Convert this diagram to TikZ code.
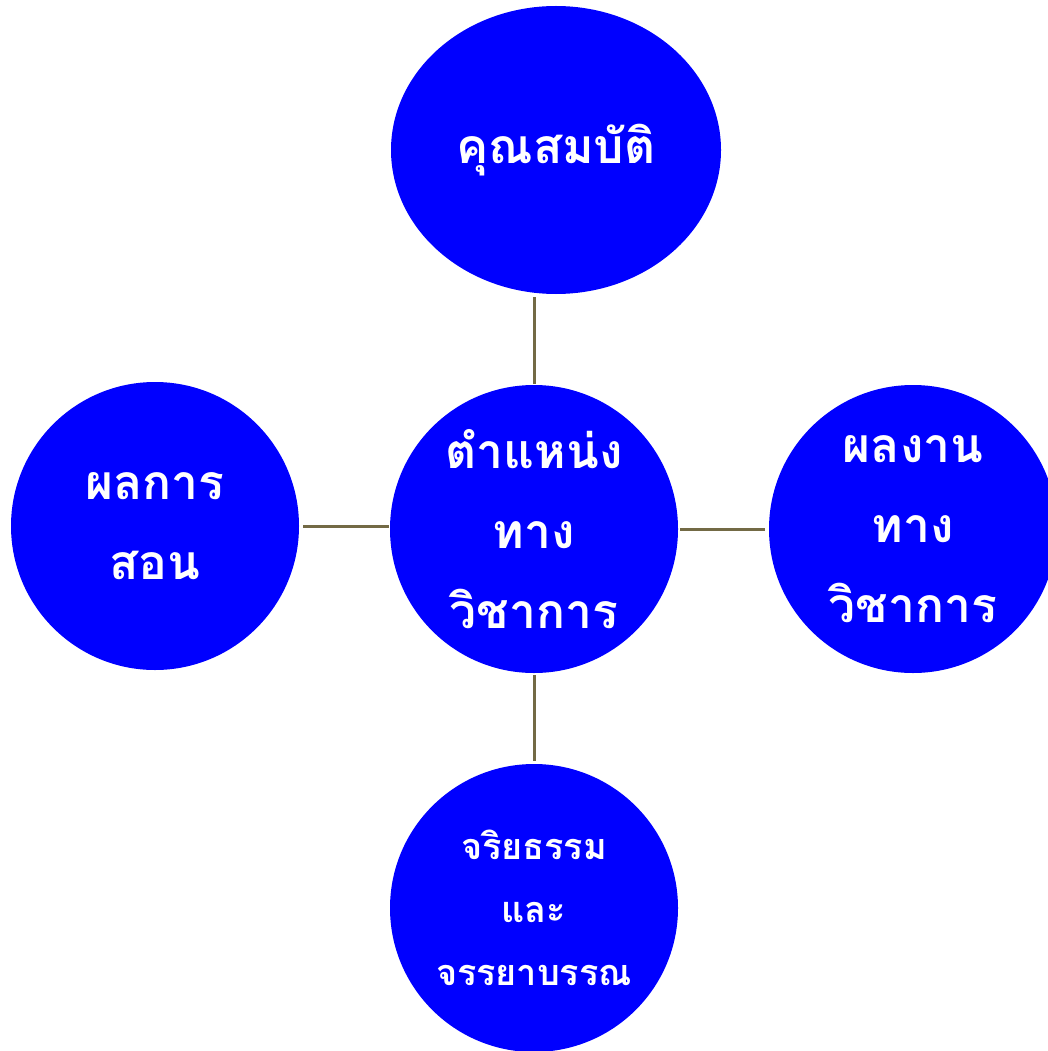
\documentclass[tikz,border=0pt]{standalone}
\usepackage{fontspec}
\newfontfamily\thaifont[Script=Thai]{Loma}
\usetikzlibrary{shapes.geometric}
\definecolor{bubble}{RGB}{0,0,255}
\definecolor{link}{RGB}{115,106,69}
\begin{document}
\begin{tikzpicture}[x=1pt,y=-1pt,
  bubble/.style={ellipse,fill=bubble,draw=none,inner sep=0pt,text=white,align=center,
    font=\thaifont\bfseries\fontsize{48}{80}\selectfont},
  small/.style={font=\thaifont\bfseries\fontsize{36}{63}\selectfont},
  link/.style={draw=link,line width=3pt}]
\useasboundingbox (0,0) rectangle (1048,1051);
\clip (0,0) rectangle (1048,1051);
\fill[white] (0,0) rectangle (1048,1051);
\node[bubble,minimum width=330pt,minimum height=288pt] (top) at (556,150) {คุณสมบัติ};
\node[bubble,minimum width=288pt,minimum height=288pt] (mid) at (534,529) {ตำแหน่ง\\ทาง\\วิชาการ};
\node[bubble,minimum width=288pt,minimum height=288pt] (left) at (155,526) {ผลการ\\สอน};
\node[bubble,minimum width=288pt,minimum height=288pt] (right) at (913,529) {ผลงาน\\ทาง\\วิชาการ};
\node[bubble,small,minimum width=288pt,minimum height=288pt] (bot) at (534,908) {จริยธรรม\\และ\\จรรยาบรรณ};
\draw[link,shorten <=1pt,shorten >=3pt] (mid.north) -- (mid.north |- top.south);
\draw[link,shorten <=2pt,shorten >=3pt] (mid.south) -- (bot.north);
\draw[link,shorten <=1pt,shorten >=4pt] (mid.west |- left.east) -- (left.east);
\draw[link,shorten <=2pt,shorten >=4pt] (mid.east) -- (right.west);
\end{tikzpicture}
\end{document}
